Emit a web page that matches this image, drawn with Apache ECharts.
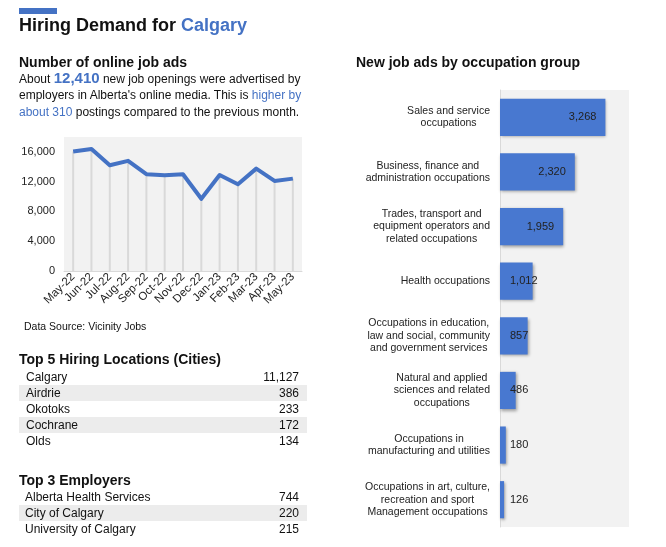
<!DOCTYPE html>
<html>
<head>
<meta charset="utf-8">
<script src="https://cdn.jsdelivr.net/npm/echarts@6/dist/echarts.min.js"></script>
<style>
  html, body { margin: 0; padding: 0; background: #fff; }
  body { width: 666px; height: 547px; position: relative; overflow: hidden; font-family: "Liberation Sans", Arial, sans-serif; color: #111; }
  #chart { position: absolute; left: 0; top: 0; width: 666px; height: 547px; }
  .abs { position: absolute; white-space: nowrap; }
  .blue { color: #4472C4; }
  .h2 { font-weight: bold; font-size: 14px; }
  .row { position: absolute; left: 19px; width: 288px; height: 16px; font-size: 12px; line-height: 16px; }
  .row.shade { background: #ececec; }
  .row .n { position: absolute; left: 7px; }
  .row .v { position: absolute; right: 8px; }
</style>
</head>
<body>
<div id="chart"></div>
<div id="overlay"></div>
<script>
// ---- Data ----
var months = ['May-22','Jun-22','Jul-22','Aug-22','Sep-22','Oct-22','Nov-22','Dec-22','Jan-23','Feb-23','Mar-23','Apr-23','May-23'];
var jobAds = [16050, 16400, 14200, 14800, 13000, 12850, 13000, 9700, 12900, 11650, 13750, 12100, 12410];
var yTicks = [0, 4000, 8000, 12000, 16000];

var occupations = [
  'Sales and service\noccupations',
  'Business, finance and\nadministration occupations',
  'Trades, transport and\nequipment operators and\nrelated occupations',
  'Health occupations',
  'Occupations in education,\nlaw and social, community\nand government services',
  'Natural and applied\nsciences and related\noccupations',
  'Occupations in\nmanufacturing and utilities',
  'Occupations in art, culture,\nrecreation and sport\nManagement occupations'
];
var occupationAds = [3268, 2320, 1959, 1012, 857, 486, 180, 126];

var cities = ['Calgary', 'Airdrie', 'Okotoks', 'Cochrane', 'Olds'];
var cityAds = [11127, 386, 233, 172, 134];

var employers = ['Alberta Health Services', 'City of Calgary', 'University of Calgary'];
var employerAds = [744, 220, 215];

// ---- Text overlay ----
function fmt(v) { return v.toLocaleString('en-US'); }
var ov = document.getElementById('overlay');
var html = '';
html += '<div class="abs" style="left:19px;top:8px;width:38px;height:6px;background:#4472C4"></div>';
html += '<div class="abs" style="left:19px;top:14px;font-size:18px;font-weight:bold;line-height:22px;">Hiring Demand for <span class="blue">Calgary</span></div>';
html += '<div class="abs h2" style="left:19px;top:53px;line-height:18px;">Number of online job ads</div>';
html += '<div class="abs" style="left:19px;top:70px;font-size:12px;line-height:16.3px;">About <b class="blue" style="font-size:15px;">12,410</b> new job openings were advertised by<br>employers in Alberta\'s online media. This is <span class="blue">higher by</span><br><span class="blue">about 310</span> postings compared to the previous month.</div>';
html += '<div class="abs" style="left:24px;top:319px;font-size:10.5px;line-height:14px;">Data Source: Vicinity Jobs</div>';
html += '<div class="abs h2" style="left:19px;top:350px;line-height:18px;">Top 5 Hiring Locations (Cities)</div>';
for (var i = 0; i < cities.length; i++) {
  html += '<div class="row' + (i % 2 ? ' shade' : '') + '" style="top:' + (368.5 + i * 16) + 'px"><span class="n">' + cities[i] + '</span><span class="v">' + fmt(cityAds[i]) + '</span></div>';
}
html += '<div class="abs h2" style="left:19px;top:471px;line-height:18px;">Top 3 Employers</div>';
for (var j = 0; j < employers.length; j++) {
  html += '<div class="row' + (j % 2 ? ' shade' : '') + '" style="top:' + (489 + j * 16) + 'px"><span class="n" style="left:6px">' + employers[j] + '</span><span class="v">' + fmt(employerAds[j]) + '</span></div>';
}
html += '<div class="abs h2" style="left:356px;top:53px;line-height:18px;">New job ads by occupation group</div>';
ov.innerHTML = html;

// ---- Chart ----
var chart = echarts.init(document.getElementById('chart'), null, { renderer: 'canvas' });
var FONT = '"Liberation Sans", Arial, sans-serif';

var barData = occupationAds.map(function (v) {
  var big = v >= 1500;
  return {
    value: v,
    label: big ? { position: 'insideRight', distance: 9 } : { position: 'insideLeft', distance: 10 }
  };
});

var option = {
  animation: false,
  textStyle: { fontFamily: FONT },
  grid: [
    { left: 64, right: 364, top: 137, bottom: 276, show: true, backgroundColor: '#f2f2f2', borderWidth: 0 },
    { left: 500, right: 37, top: 90, bottom: 20, show: true, backgroundColor: '#f2f2f2', borderWidth: 0 }
  ],
  xAxis: [
    {
      gridIndex: 0, type: 'category', data: months, boundaryGap: true,
      axisLine: { lineStyle: { color: '#d9d9d9', width: 1 } },
      axisTick: { show: false },
      axisLabel: { rotate: 45, fontSize: 11.5, color: '#222', margin: 4, interval: 0, fontFamily: FONT },
      splitLine: { show: false }
    },
    {
      gridIndex: 1, type: 'value', min: 0, max: 4000, show: false
    }
  ],
  yAxis: [
    {
      gridIndex: 0, type: 'value', min: 0, max: 18000, interval: 4000,
      axisLine: { show: false }, axisTick: { show: false },
      splitLine: { show: false },
      axisLabel: {
        fontSize: 11, color: '#222', margin: 9, fontFamily: FONT, showMaxLabel: false,
        formatter: function (v) { return yTicks.indexOf(v) >= 0 ? fmt(v) : ''; }
      }
    },
    {
      gridIndex: 1, type: 'category', data: occupations, inverse: true,
      axisLine: { show: true, lineStyle: { color: '#d9d9d9' } },
      axisTick: { show: false },
      axisLabel: {
        margin: 10, color: '#222', fontSize: 10.5, align: 'right', interval: 0, fontFamily: FONT,
        formatter: function (v) {
          return v.split('\n').map(function (l) { return '{c|' + l + '}'; }).join('\n');
        },
        rich: { c: { align: 'center', fontSize: 10.5, lineHeight: 12.5, color: '#222', fontFamily: FONT } }
      }
    }
  ],
  series: [
    {
      name: 'drop', type: 'bar', xAxisIndex: 0, yAxisIndex: 0, data: jobAds,
      barWidth: 2, itemStyle: { color: '#d9d9d9' }, silent: true, z: 1
    },
    {
      name: 'Job ads', type: 'line', xAxisIndex: 0, yAxisIndex: 0, data: jobAds,
      showSymbol: false, symbol: 'none',
      lineStyle: { color: '#4472C4', width: 4, join: 'round' }, z: 3
    },
    {
      name: 'Occupation', type: 'bar', xAxisIndex: 1, yAxisIndex: 1, data: barData,
      barCategoryGap: '32%',
      itemStyle: {
        color: '#4878D0',
        shadowColor: 'rgba(0,0,0,0.35)', shadowBlur: 3, shadowOffsetX: 1, shadowOffsetY: 1.5
      },
      label: {
        show: true, fontSize: 11, color: '#222', fontFamily: FONT,
        formatter: function (p) { return fmt(p.value); }
      }
    }
  ]
};
chart.setOption(option);
</script>
</body>
</html>
